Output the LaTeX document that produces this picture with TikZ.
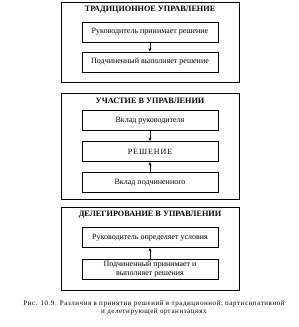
\documentclass[tikz,border=0pt]{standalone}
\usepackage{fontspec}
\setmainfont{Liberation Serif}
\usetikzlibrary{arrows.meta}

\begin{document}
\begin{tikzpicture}[x=1pt, y=-1pt,
  frame/.style={draw, line width=0.8pt, minimum width=178pt, inner sep=0pt},
  stepbox/.style={draw, line width=0.9pt, minimum width=136pt, minimum height=20pt,
    inner sep=1pt, align=center, font=\fontsize{8}{8.5}\selectfont},
  heading/.style={font=\bfseries\fontsize{8.2}{9}\selectfont},
  link/.style={-{Stealth[length=3.5pt, width=3pt]}, line width=0.8pt}]
\useasboundingbox (0,0) rectangle (299,327);

% traditional
\node[frame, minimum height=80pt] (trad) at (150,42) {};
\node[heading] (tradT) at (150,10) {ТРАДИЦИОННОЕ УПРАВЛЕНИЕ};
\node[stepbox] (tradA) at (150,32) {Руководитель принимает решение};
\node[stepbox] (tradB) at (150,62) {Подчиненный выполняет решение};
\draw[link] (tradA) -- (tradB);

% participation
\node[frame, minimum height=106pt] (part) at (150,146) {};
\node[heading] (partT) at (150,101) {УЧАСТИЕ В УПРАВЛЕНИИ};
\node[stepbox] (partA) at (150,120.5) {Вклад руководителя};
\node[stepbox] (partB) at (150,151.5) {\addfontfeatures{LetterSpace=12}РЕШЕНИЕ};
\node[stepbox] (partC) at (150,182.5) {Вклад подчиненного};
\draw[link] (partA) -- (partB);
\draw[link] (partC) -- (partB);

% delegation
\node[frame, minimum height=83pt] (dele) at (150,248.5) {};
\node[heading] (deleT) at (150,215) {ДЕЛЕГИРОВАНИЕ В УПРАВЛЕНИИ};
\node[stepbox] (deleA) at (150,237.5) {Руководитель определяет условия};
\node[stepbox] (deleB) at (150,269) {Подчиненный принимает и\\выполняет решения};
\draw[link] (deleB) -- (deleA);

\node[align=center, font=\fontsize{7}{8}\selectfont\addfontfeatures{LetterSpace=8}]
  (caption) at (154,308)
  {Рис. 10.9. Различия в принятии решений в традиционной, партисипативной\\
   и делегирующей организациях};
\end{tikzpicture}
\end{document}
